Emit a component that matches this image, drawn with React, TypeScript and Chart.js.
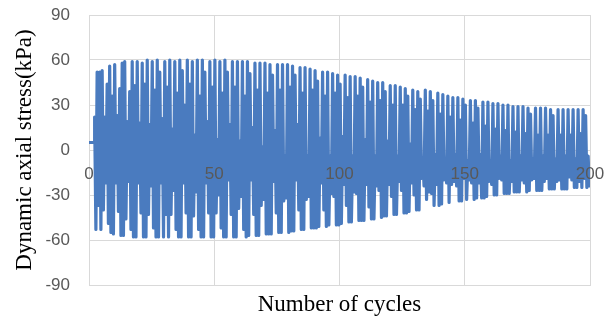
import React, { useEffect, useRef } from 'react';
import { Chart, registerables } from 'chart.js';

Chart.register(...registerables);

// Flat lead-in before loading starts
const leadInCycles = [0, 2];
const leadInStress = [5, 5];

// Cycle index of the first loading cycle
const firstCycle = 2;

// Peak (maximum) stress of each cycle, kPa (cycles 2..199)
const peakStress = [
  22, 52, 52, 53, 22, 44, 56, 36,
  57, 23, 41, 58, 59, 19, 39, 59, 43, 59,
  18, 58, 44, 60, 17, 59, 40, 60, 52, 21,
  59, 42, 60, 14, 59, 38, 60, 53, 30, 60,
  44, 59, 10, 60, 36, 60, 52, 19, 59, 42,
  60, 7, 59, 38, 60, 52, 17, 59, 42, 59,
  6, 59, 36, 59, 51, 15, 58, 40, 58, 2,
  58, 38, 57, 50, 13, 57, 40, 57, -4, 57,
  42, 56, 50, 17, 55, 38, 55, -4, 54, 40,
  53, 46, 8, 52, 36, 52, -4, 51, 38, 50,
  44, 9, 50, 35, 49, -4, 49, 36, 48, 42,
  7, 47, 32, 46, -4, 45, 33, 45, 39, 6,
  43, 30, 43, -4, 42, 30, 41, 36, 4, 40,
  27, 39, 34, -5, 40, 26, 39, 33, -3, 38,
  24, 37, -7, 36, 22, 35, -3, 35, 20, 34,
  30, -7, 33, 18, 33, 28, -3, 32, 16, 32,
  -7, 31, 14, 31, -4, 30, 13, 30, -7, 29,
  12, 29, -4, 29, 11, 28, 24, -6, 28, 10,
  28, -4, 28, 10, 27, 23, -6, 27, 10, 27,
  -4, 27, 10, 27, -6, 27, 11, 27, 23, -4,
];

// Trough (minimum) stress of each cycle, kPa (cycles 2..199)
const troughStress = [
  -53, -37, -53, -40, -22, -49, -55, -56,
  -22, -41, -57, -57, -46, -21, -53, -58, -58, -22,
  -42, -58, -58, -43, -24, -52, -58, -58, -22, -58,
  -43, -58, -43, -27, -53, -58, -58, -22, -42, -58,
  -58, -44, -28, -53, -58, -58, -22, -42, -58, -58,
  -42, -30, -52, -58, -58, -20, -43, -58, -58, -39,
  -31, -53, -58, -57, -20, -43, -57, -57, -37, -33,
  -56, -56, -56, -21, -42, -55, -55, -34, -32, -55,
  -54, -54, -20, -40, -53, -53, -33, -31, -52, -52,
  -52, -51, -22, -40, -51, -50, -29, -31, -50, -50,
  -49, -23, -37, -48, -48, -28, -29, -47, -47, -47,
  -23, -38, -46, -46, -24, -27, -45, -44, -44, -23,
  -31, -43, -43, -21, -27, -42, -42, -41, -22, -30,
  -40, -40, -19, -24, -33, -28, -29, -37, -23, -37,
  -36, -20, -22, -35, -23, -21, -24, -34, -34, -19,
  -33, -20, -22, -33, -32, -22, -32, -32, -31, -21,
  -23, -30, -30, -19, -20, -29, -29, -29, -21, -28,
  -28, -28, -20, -22, -28, -27, -20, -19, -27, -27,
  -27, -21, -19, -26, -26, -26, -21, -20, -26, -26,
  -26, -18, -20, -25, -25, -21, -25, -19, -25, -25,
];

const xTickValues = [0, 50, 100, 150, 200];
const yTickValues = [-90, -60, -30, 0, 30, 60, 90];

const lineColor = '#4a7bbf';
const gridColor = '#d9d9d9';
const tickColor = '#595959';

export default function App() {
  const canvasRef = useRef<HTMLCanvasElement | null>(null);

  useEffect(() => {
    document.body.style.margin = '0';
    const canvas = canvasRef.current;
    if (!canvas) return;

    const points: { x: number; y: number }[] = [];
    leadInCycles.forEach((c, i) => points.push({ x: c, y: leadInStress[i] }));
    peakStress.forEach((p, i) => {
      points.push({ x: firstCycle + i + 0.25, y: p });
      points.push({ x: firstCycle + i + 0.75, y: troughStress[i] });
    });

    const chart = new Chart(canvas, {
      type: 'line',
      data: {
        datasets: [
          {
            data: points,
            borderColor: lineColor,
            borderWidth: 3.2,
            borderJoinStyle: 'round',
            pointRadius: 0,
            tension: 0,
            fill: false,
          },
        ],
      },
      options: {
        responsive: false,
        animation: false,
        events: [],
        layout: { padding: { left: 0, right: 16, top: 15, bottom: 0 } },
        plugins: { legend: { display: false }, tooltip: { enabled: false } },
        scales: {
          x: {
            type: 'linear',
            position: 'bottom',
            min: 0,
            max: 200,
            afterBuildTicks: (s: any) => {
              s.ticks = xTickValues.map((v) => ({ value: v }));
            },
            afterFit: (s: any) => {
              s.height = 37;
              s.paddingLeft = 0;
              s.paddingRight = 0;
            },
            ticks: { display: false },
            grid: { color: gridColor, drawTicks: false, lineWidth: 1 },
            border: { display: true, color: gridColor },
            title: {
              display: true,
              text: 'Number of cycles',
              color: '#000000',
              font: { family: '"Liberation Serif", "Times New Roman", serif', size: 23 },
              padding: { top: 0, bottom: 3 },
            },
          },
          xLabels: {
            type: 'linear',
            axis: 'x',
            position: { y: 0 },
            min: 0,
            max: 200,
            afterBuildTicks: (s: any) => {
              s.ticks = xTickValues.map((v) => ({ value: v }));
            },
            afterFit: (s: any) => {
              s.paddingLeft = 0;
              s.paddingRight = 0;
            },
            ticks: {
              z: 1,
              color: tickColor,
              padding: 14,
              maxRotation: 0,
              autoSkip: false,
              font: { family: '"Liberation Sans", Arial, sans-serif', size: 17 },
            },
            grid: { display: false, drawTicks: false },
            border: { display: false },
          },
          y: {
            type: 'linear',
            position: 'left',
            min: -90,
            max: 90,
            afterBuildTicks: (s: any) => {
              s.ticks = yTickValues.map((v) => ({ value: v }));
            },
            afterFit: (s: any) => {
              s.width = 89;
              s.paddingTop = 0;
              s.paddingBottom = 0;
            },
            ticks: {
              color: tickColor,
              padding: 19,
              font: { family: '"Liberation Sans", Arial, sans-serif', size: 17 },
            },
            grid: { color: gridColor, drawTicks: false, lineWidth: 1 },
            border: { display: true, color: gridColor },
            title: {
              display: true,
              text: 'Dynamic axial stress(kPa)',
              color: '#000000',
              font: { family: '"Liberation Serif", "Times New Roman", serif', size: 23 },
              padding: { top: 11, bottom: 0 },
            },
          },
        },
      },
    });

    return () => chart.destroy();
  }, []);

  return (
    <div style={{ width: 606, height: 322, background: '#ffffff' }}>
      <canvas ref={canvasRef} width={606} height={322} style={{ display: 'block' }} />
    </div>
  );
}
